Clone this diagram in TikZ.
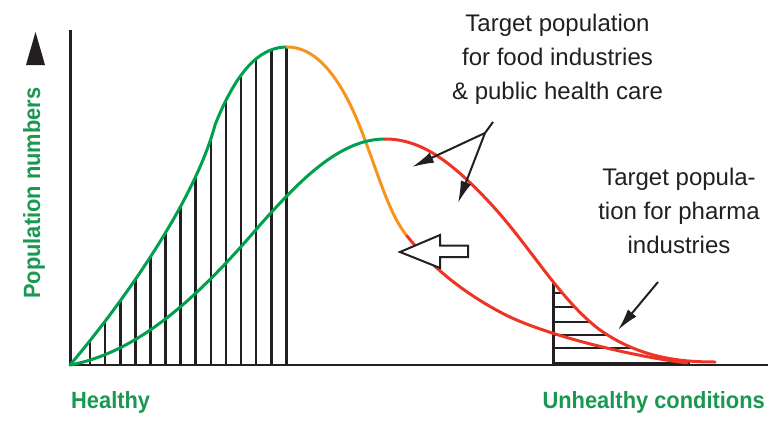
\documentclass[tikz,border=0pt]{standalone}
\usepackage{fontspec}
\setmainfont{Liberation Sans}
\newfontfamily\labfont{Liberation Sans}[FakeStretch=0.93]
\usetikzlibrary{arrows.meta}
\definecolor{cgreen}{RGB}{0,160,80}
\definecolor{corange}{RGB}{247,148,29}
\definecolor{cred}{RGB}{238,52,36}
\definecolor{lgreen}{RGB}{26,152,82}
\definecolor{ink}{RGB}{35,31,32}
\begin{document}
\begin{tikzpicture}[x=1pt,y=-1pt,
  curve/.style={line width=3pt,line cap=round},
  hatchline/.style={draw=ink,line width=2.6pt},
  axisline/.style={draw=ink},
  txt/.style={inner sep=0pt,align=center,text=ink,font=\fontsize{24}{34}\selectfont},
  lab/.style={inner sep=0pt,text=lgreen,font=\labfont\bfseries\fontsize{23.5}{28}\selectfont},
  annarrow/.style={draw=ink,line width=2pt,-{Latex[length=22pt,width=11pt]}},
  hollow/.style={draw=ink,fill=white,line width=2pt,line join=miter}]
\useasboundingbox (0,0) rectangle (781,420);
% key points
\coordinate (O) at (70,365);
\coordinate (Nmid) at (215,125);
\coordinate (Npk) at (287,47);
\coordinate (No1) at (365,140);
\coordinate (NoR) at (407,236);
\coordinate (Nr1) at (500,312);
\coordinate (Nend) at (687,363);
\coordinate (Wm) at (260,225);
\coordinate (Wpk) at (385,139);
\coordinate (Wr1) at (490,203);
\coordinate (Wr2) at (600,330);
\coordinate (Wend) at (715,362);
% vertical hatching under the narrow curve
\begin{scope}
  \clip (O) .. controls (125,300) and (195,200) .. (Nmid) .. controls (240,62) and (265,47) .. (Npk) -- (289,47) -- (289,366) -- (70,366) -- cycle;
  \foreach \i in {0,...,13} \draw[hatchline] ({90+15.1*\i},366) -- ++(0,-330);
\end{scope}
% horizontal hatching under the wide curve tail
\begin{scope}
  \clip (551.5,0) rectangle (781,366);
  \clip (Wr1) .. controls (530,246) and (560,300) .. (Wr2) .. controls (640,358) and (680,362) .. (Wend) -- (715,366) -- (480,366) -- cycle;
  \foreach \yy in {293,307,322,335,348} \draw[draw=ink,line width=2.4pt] (553,\yy) -- (760,\yy);
  \draw[draw=ink,line width=3pt] (553,363.5) -- (690,363.5);
  \draw[draw=ink,line width=3pt] (553,366) -- (553,200);
\end{scope}
% axes
\draw[axisline,line width=1.5pt] (70,365) -- (768,365);
\draw[axisline,line width=3pt] (70,366) -- (70,30);
\fill[ink] (35.5,32) -- (45,65) -- (26,65) -- cycle;
% narrow curve
\draw[curve,cgreen] (O) .. controls (125,300) and (195,200) .. (Nmid) .. controls (240,62) and (265,47) .. (Npk);
\draw[curve,corange] (Npk) .. controls (320,47) and (345,85) .. (No1) .. controls (380,180) and (390,215) .. (NoR);
\draw[curve,cred] (NoR) .. controls (425,258) and (450,285) .. (Nr1) .. controls (540,334) and (630,356) .. (Nend);
% wide curve
\draw[curve,cgreen] (O) .. controls (140,352) and (200,295) .. (Wm) .. controls (300,180) and (340,139) .. (Wpk);
\draw[curve,cred] (Wpk) .. controls (420,139) and (450,160) .. (Wr1) .. controls (530,246) and (560,300) .. (Wr2) .. controls (640,358) and (680,362) .. (Wend);
% hollow shift arrow
\draw[hollow] (400,252) -- (440,235) -- (440,245.5) -- (468,245.5) -- (468,257) -- (440,257) -- (440,268) -- cycle;
% texts
\node[txt,anchor=north] (food) at (557.5,13.5) {Target population\\for food industries\\\& public health care};
\node[txt,anchor=north] (pharma) at (679,167.5) {Target popula-\\tion for pharma\\industries};
\node[lab,anchor=base west] (healthy) at (71,408) {Healthy};
\node[lab,anchor=base east] (unhealthy) at (765,408) {Unhealthy conditions};
\node[lab,rotate=90,anchor=base west] (pop) at (40,299) {Population numbers};
% annotation arrows
\coordinate (fs) at (493,122);
\coordinate (fv) at (485,133);
\coordinate (ft1) at (412,167);
\coordinate (ft2) at (458,203);
\coordinate (ps) at (658,282);
\coordinate (pt) at (618,330);
\draw[draw=ink,line width=2pt] (fs) -- (fv);
\draw[annarrow] (fv) -- (ft1);
\draw[annarrow] (fv) -- (ft2);
\draw[annarrow] (ps) -- (pt);
\end{tikzpicture}
\end{document}
